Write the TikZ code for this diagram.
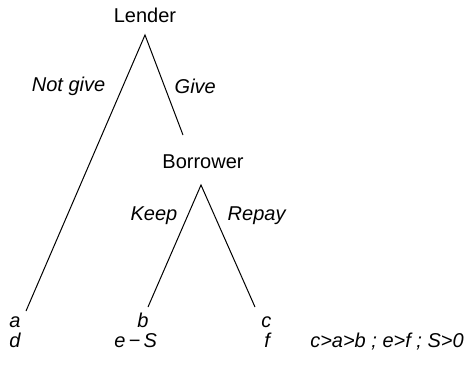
\documentclass[tikz,border=0pt]{standalone}
\usepackage{fontspec}
\setmainfont{Liberation Sans}
\usetikzlibrary{positioning}

\begin{document}
\begin{tikzpicture}[
    x=0.75pt, y=-0.75pt,
    player/.style={font=\fontsize{15}{18}\selectfont},
    move/.style={font=\fontsize{15}{18}\selectfont\itshape},
    payoff/.style={font=\fontsize{15}{18}\selectfont\itshape, anchor=base west, inner sep=0pt},
    branch/.style={line width=0.75pt}
]
    \useasboundingbox (0,0) rectangle (468,365);

    % decision nodes
    \node[player] (lender) at (145,15) {Lender};
    \node[player] (borrower) at (203,162) {Borrower};
    \coordinate (lroot) at (145,35);
    \coordinate (broot) at (201,185);
    \coordinate (give) at (183,135);
    \coordinate (enda) at (26,311);
    \coordinate (endb) at (148,307);
    \coordinate (endc) at (255,307);

    % branches
    \draw[branch] (enda) -- (lroot) -- (give);
    \draw[branch] (endb) -- (broot) -- (endc);

    % move labels
    \node[move, anchor=east] (notgive) at (110,86) {Not give};
    \node[move, anchor=west] (givelbl) at (170,86) {Give};
    \node[move, anchor=east] (keep) at (182,216) {Keep};
    \node[move, anchor=west] (repay) at (223,216) {Repay};

    % payoffs
    \node[payoff] (pa) at (9,327) {a};
    \node[payoff] (pd) at (9,347) {d};
    \node[payoff] (pb) at (137,327) {b};
    \node[payoff] (pe) at (114,347) {e\,−\,S};
    \node[payoff] (pc) at (261,327) {c};
    \node[payoff] (pf) at (264,347) {f};
    \node[payoff] (cond) at (310,347) {c>a>b ; e>f ; S>0};
\end{tikzpicture}
\end{document}
